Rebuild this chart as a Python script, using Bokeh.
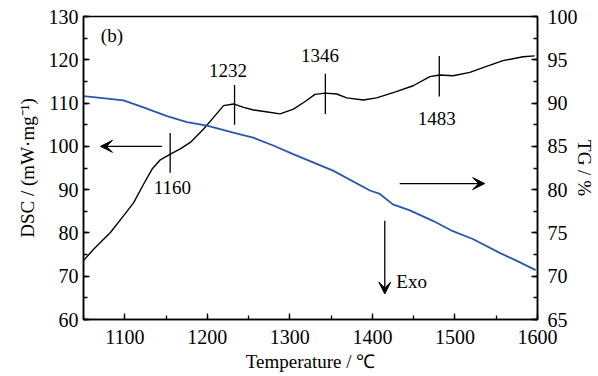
from bokeh.plotting import figure
from bokeh.models import (Range1d, LinearAxis, SingleIntervalTicker, Label, Arrow,
                          VeeHead)
from bokeh.embed import file_html
from bokeh.resources import INLINE

# DSC curve (left axis)
dsc_T = [1050, 1062.5, 1082.6, 1098.7, 1110.8, 1122.9, 1133.1, 1143.1, 1155.2, 1167.3,
         1179.4, 1195.5, 1207.6, 1219.7, 1231.8, 1243.9, 1256, 1271, 1288.2, 1304.3,
         1318, 1330.5, 1342.6, 1356.8, 1368.9, 1389, 1405.1, 1428, 1449.4, 1469.6,
         1481.7, 1497.8, 1518, 1534, 1558.2, 1582.4, 1596.5]
dsc_val = [73.6, 76.3, 80.1, 84.0, 87.0, 91.3, 94.75, 96.9, 98.2, 99.4,
           100.9, 104.0, 106.7, 109.4, 109.8, 109.0, 108.4, 108.0, 107.5, 108.6,
           110.3, 112.0, 112.3, 112.1, 111.2, 110.7, 111.2, 112.6, 114.0, 116.1,
           116.5, 116.3, 117.1, 118.2, 119.8, 120.7, 120.9]

# TG curve (right axis)
tg_T = [1050, 1070.6, 1098.4, 1122.6, 1151.2, 1175.4, 1199.6, 1231.4, 1255.6, 1279.8,
        1304, 1352.3, 1397, 1409, 1424.8, 1445.4, 1473.2, 1497.4, 1521.6, 1554.2,
        1574.4, 1597.8]
tg_val = [90.8, 90.6, 90.3, 89.5, 88.5, 87.8, 87.4, 86.6, 86.0, 85.1,
          84.1, 82.2, 79.9, 79.5, 78.3, 77.6, 76.4, 75.2, 74.3, 72.7,
          71.8, 70.7]

# peak annotations
peak_labels = ["1160", "1232", "1346", "1483"]
peak_T = [1155, 1233, 1343, 1481]

FONT = "Liberation Serif"

p = figure(width=598, height=376, output_backend="svg", toolbar_location=None,
           x_range=Range1d(1050, 1600), y_range=Range1d(60, 130),
           min_border_left=83, min_border_right=61, min_border_top=16, min_border_bottom=57)
p.extra_y_ranges = {"tg": Range1d(65, 100)}
p.xgrid.visible = False
p.ygrid.visible = False
p.outline_line_color = "black"
p.outline_line_width = 1.5
p.background_fill_color = "white"
p.border_fill_color = "white"

p.line(dsc_T, dsc_val, line_color="black", line_width=1.4)
p.line(tg_T, tg_val, line_color="#2a56b0", line_width=1.8, y_range_name="tg")

right = LinearAxis(y_range_name="tg")
p.add_layout(right, "right")

p.xaxis.ticker = SingleIntervalTicker(interval=100, num_minor_ticks=2)
p.yaxis[0].ticker = SingleIntervalTicker(interval=10, num_minor_ticks=2)
right.ticker = SingleIntervalTicker(interval=5, num_minor_ticks=2)

p.xaxis.axis_label = "Temperature / ℃"
p.yaxis[0].axis_label = "DSC / (mW·mg⁻¹)"
right.axis_label = "TG / %"

for ax in [p.xaxis[0], p.yaxis[0], right]:
    ax.axis_line_color = "black"
    ax.axis_line_width = 1.5
    ax.major_tick_in = 6
    ax.major_tick_out = 0
    ax.minor_tick_in = 4
    ax.minor_tick_out = 0
    ax.major_tick_line_color = "black"
    ax.minor_tick_line_color = "black"
    ax.major_tick_line_width = 1.3
    ax.minor_tick_line_width = 1.3
    ax.major_label_text_font = FONT
    ax.major_label_text_font_size = "20px"
    ax.major_label_text_color = "black"
    ax.axis_label_text_font = FONT
    ax.axis_label_text_font_size = "19px"
    ax.axis_label_text_font_style = "normal"
    ax.axis_label_text_color = "black"

p.xaxis.major_label_standoff = 10
p.xaxis.axis_label_standoff = 4
p.yaxis[0].major_label_standoff = 5
p.yaxis[0].axis_label_standoff = 8
right.major_label_standoff = 10
right.axis_label_standoff = -7

# peak marker lines
marker_lo = [93.9, 105.0, 107.5, 111.5]
marker_hi = [103.1, 114.2, 116.8, 120.9]
p.segment(x0=peak_T, y0=marker_lo, x1=peak_T, y1=marker_hi, line_color="black", line_width=1.3)

label_pos = [(1157.6, 90.4), (1225, 117.5), (1336.6, 120.9), (1478, 106.4)]
for txt, (lx, ly) in zip(peak_labels, label_pos):
    p.add_layout(Label(x=lx, y=ly, text=txt, text_font=FONT, text_font_size="19px",
                       text_align="center", text_baseline="middle", text_color="black"))

p.add_layout(Label(x=1071, y=125.5, text="(b)", text_font=FONT, text_font_size="19px",
                   text_align="left", text_baseline="middle", text_color="black"))
p.add_layout(Label(x=1429, y=68.8, text="Exo", text_font=FONT, text_font_size="19px",
                   text_align="left", text_baseline="middle", text_color="black"))

# arrows
p.add_layout(Arrow(end=VeeHead(size=12, fill_color="black", line_color="black"),
                   x_start=1145, y_start=100, x_end=1070.6, y_end=100,
                   line_color="black", line_width=1.3))
p.add_layout(Arrow(end=VeeHead(size=12, fill_color="black", line_color="black"),
                   x_start=1433, y_start=91.4, x_end=1536, y_end=91.4,
                   line_color="black", line_width=1.3))
p.add_layout(Arrow(end=VeeHead(size=12, fill_color="black", line_color="black"),
                   x_start=1415, y_start=82.8, x_end=1415, y_end=65.9,
                   line_color="black", line_width=1.3))

open("out.html", "w").write(file_html(p, INLINE))
